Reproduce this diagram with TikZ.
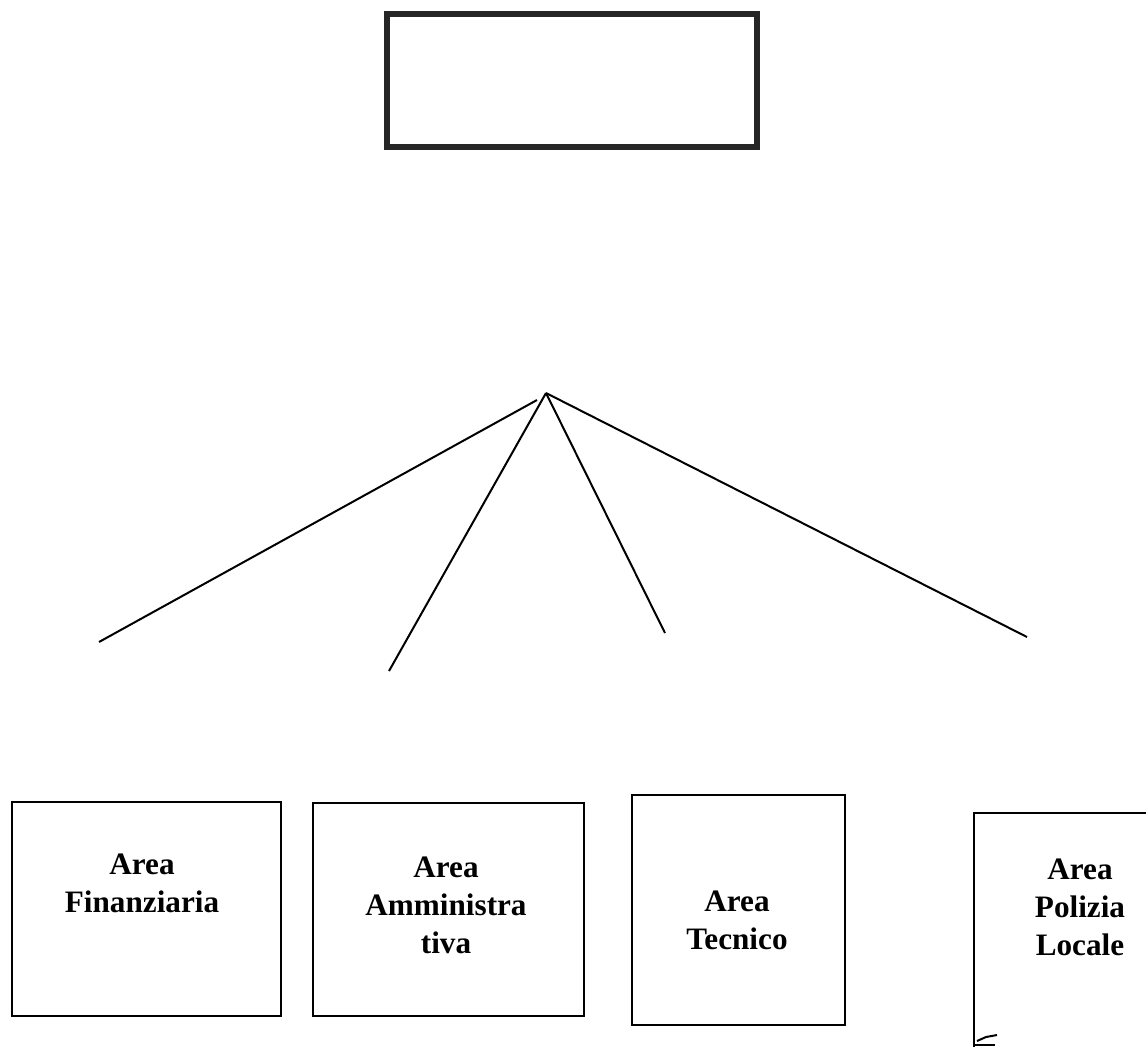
\documentclass[tikz,border=0pt]{standalone}
\usepackage{fontspec}
\setmainfont{Liberation Serif}

\begin{document}
\begin{tikzpicture}[
    x=0.5pt, y=-0.5pt,
    head/.style={draw=black!85, line width=3pt, inner sep=0pt,
    minimum width=185pt, minimum height=66.5pt},
    area/.style={draw, line width=1pt, inner sep=0pt},
    areatext/.style={draw=none, inner sep=0pt, align=center,
    font=\fontsize{15.6}{19}\selectfont\bfseries},
    branch/.style={line width=1pt}
    ]
    \useasboundingbox (0,0) rectangle (1146,1046);

    \node[head]  (capo)  at (572,80.5)  {};

    \coordinate (hub)   at (546,393);
    \coordinate (hubL)  at (537,400);
    \coordinate (endF)  at (99,642);
    \coordinate (endA)  at (389,671);
    \coordinate (endT)  at (665,633);
    \coordinate (endP)  at (1027,637);

    \node[area, minimum width=134.5pt, minimum height=107pt]   (fin)  at (146.5,909)  {};
    \node[area, minimum width=135.5pt, minimum height=106.5pt] (amm)  at (448.5,909.5) {};
    \node[area, line width=1.3pt, minimum width=106.5pt, minimum height=115pt]   (tec)  at (738.5,910)  {};
    \node[area, line width=1.3pt, minimum width=98pt,    minimum height=118.5pt] (pol)  at (1072,931.5) {};

    \node[areatext]  (finT)  at (142,883)   {Area\\Finanziaria};
    \node[areatext]  (ammT)  at (446,905)   {Area\\Amministra\\tiva};
    \node[areatext]  (tecT)  at (737,920)   {Area\\Tecnico};
    \node[areatext]  (polT)  at (1080,907)  {Area\\Polizia\\Locale};

    \path[branch]
      (hubL)  edge  (endF)
      (hub)   edge  (endA)
      (hub)   edge  (endT)
      (hub)   edge  (endP)
    ;

    % segno a mano in basso
    \draw[line width=1pt] (975,1045) -- (995,1045);
    \draw[line width=1pt] (977,1041) -- (986,1037) -- (997,1035);
  \end{tikzpicture}
\end{document}
